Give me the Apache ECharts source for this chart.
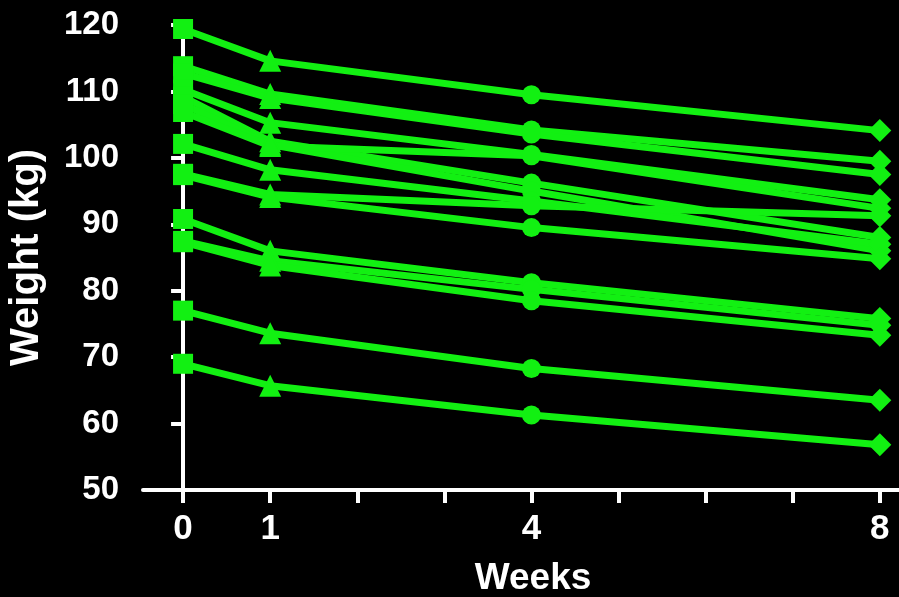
<!DOCTYPE html>
<html>
<head>
<meta charset="utf-8">
<script src="https://cdn.jsdelivr.net/npm/echarts@6/dist/echarts.min.js"></script>
<style>
html,body{margin:0;padding:0;background:#000;}
#chart{width:899px;height:597px;}
</style>
</head>
<body>
<div id="chart"></div>
<script>
// Time points (weeks)
const weeks = [0, 1, 4, 8];
const xTickValues = [0, 1, 2, 3, 4, 5, 6, 7, 8];
const xLabelValues = [0, 1, 4, 8];
const yTicks = [50, 60, 70, 80, 90, 100, 110, 120];

// Individual weight trajectories (kg) at weeks 0, 1, 4, 8
const subjA = [119.4, 114.6, 109.5, 104.1];
const subjB = [113.8, 109.6, 104.2, 99.5];
const subjC = [112.7, 109.0, 103.6, 97.5];
const subjD = [110.3, 105.3, 100.5, 93.7];
const subjE = [109.2, 102.5, 96.2, 88.0];
const subjF = [108.1, 102.0, 95.0, 86.0];
const subjG = [106.9, 101.8, 100.3, 92.4];
const subjH = [102.1, 98.2, 93.5, 87.0];
const subjI = [97.6, 94.5, 92.8, 91.3];
const subjJ = [97.4, 94.1, 89.5, 84.8];
const subjK = [90.8, 86.0, 81.2, 75.8];
const subjL = [87.5, 84.5, 80.2, 74.8];
const subjM = [87.3, 83.8, 78.5, 73.3];
const subjN = [77.0, 73.6, 68.3, 63.5];
const subjO = [69.0, 65.7, 61.3, 56.8];

const subjects = [subjA, subjB, subjC, subjD, subjE, subjF, subjG, subjH,
                  subjI, subjJ, subjK, subjL, subjM, subjN, subjO];

const markerShapes = ['rect', 'triangle', 'circle', 'diamond'];
const markerSizes = [20, 22, 19, 23];
const green = '#12f012';

const chart = echarts.init(document.getElementById('chart'));

const series = subjects.map(function (vals) {
  return {
    type: 'line',
    data: weeks.map(function (w, i) { return [w, vals[i]]; }),
    symbol: function (v, p) { return markerShapes[p.dataIndex]; },
    symbolSize: function (v, p) { return markerSizes[p.dataIndex]; },
    showAllSymbol: true,
    lineStyle: { color: green, width: 7 },
    itemStyle: { color: green, opacity: 1 },
    emphasis: { disabled: true },
    z: 2
  };
});

chart.setOption({
  backgroundColor: '#000',
  animation: false,
  grid: { left: 143, right: 0, top: 25, bottom: 107, containLabel: false, outerBoundsMode: 'none' },
  xAxis: {
    type: 'value',
    min: -0.46,
    max: 8.22,
    splitLine: { show: false },
    axisLine: { show: true, onZero: false, lineStyle: { color: '#fff', width: 4 } },
    axisTick: { show: true, customValues: xTickValues, length: 13, lineStyle: { color: '#fff', width: 4 } },
    axisLabel: {
      show: true, customValues: xLabelValues, margin: 22,
      color: '#fff', fontSize: 35, fontWeight: 'bold',
      fontFamily: '"Liberation Sans Narrow", "Arial Narrow", "Liberation Sans", Arial, sans-serif'
    },
    name: 'Weeks',
    nameLocation: 'middle',
    nameGap: 70,
    nameTextStyle: {
      color: '#fff', fontSize: 37, fontWeight: 'bold',
      fontFamily: '"Liberation Sans Narrow", "Arial Narrow", "Liberation Sans", Arial, sans-serif',
      padding: [0, 0, 0, 24]
    }
  },
  yAxis: {
    type: 'value',
    min: 50,
    max: 120,
    interval: 10,
    splitLine: { show: false },
    axisLine: { show: true, lineStyle: { color: '#fff', width: 4 } },
    axisTick: { show: true, length: 12, lineStyle: { color: '#fff', width: 4 } },
    axisLabel: {
      margin: 24, color: '#fff', fontSize: 33, fontWeight: 'bold',
      fontFamily: '"Liberation Sans", Arial, sans-serif'
    },
    name: 'Weight (kg)',
    nameLocation: 'middle',
    nameGap: 96,
    nameRotate: 90,
    nameTextStyle: {
      color: '#fff', fontSize: 40, fontWeight: 'bold',
      fontFamily: '"Liberation Sans", Arial, sans-serif'
    }
  },
  series: series
});
</script>
</body>
</html>
